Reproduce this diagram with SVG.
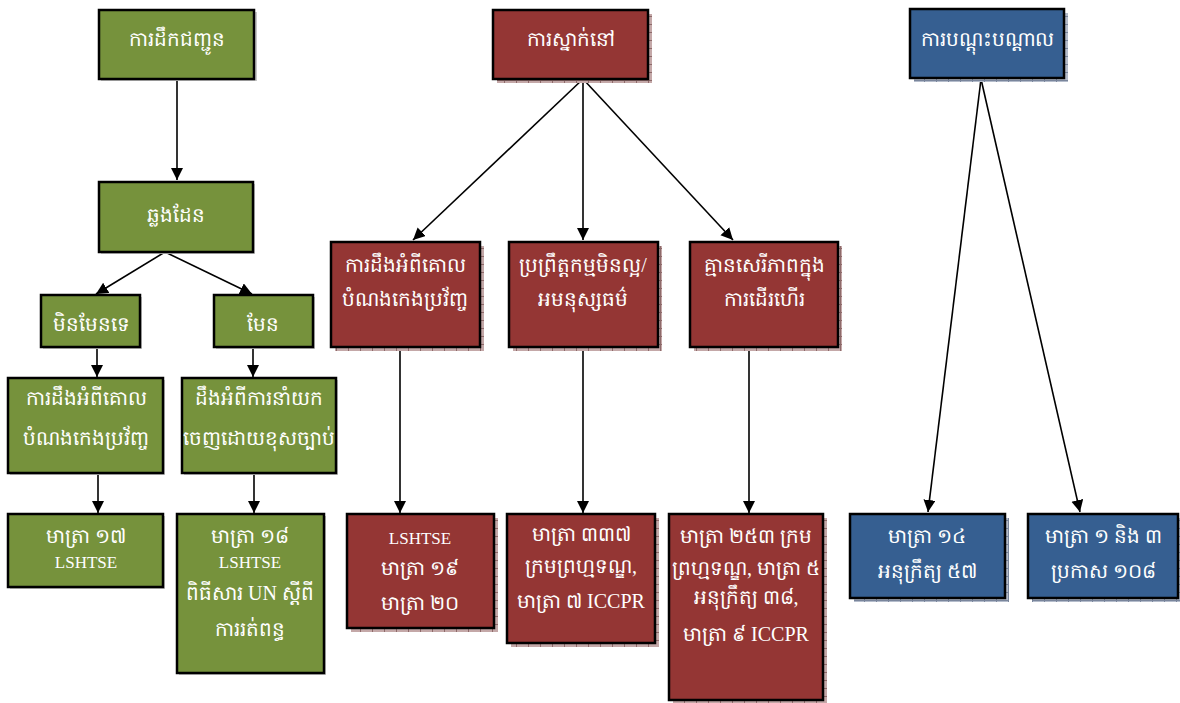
<svg xmlns="http://www.w3.org/2000/svg" width="1180" height="703" viewBox="0 0 1180 703">
<style>
.g{fill:#76923c;stroke:#000;stroke-width:2.5}
.r{fill:#943634;stroke:#000;stroke-width:2.5}
.b{fill:#365f91;stroke:#000;stroke-width:2.5}
.gs{fill:#c8c8c8}
.rs{fill:url(#rp)}
.bs{fill:url(#bp)}
text{font-family:"Liberation Serif","Noto Sans",serif;font-size:20px;fill:#fff;text-anchor:middle}
.lat{font-size:17px}
.c{stroke:#000;stroke-width:1.6;fill:none;marker-end:url(#ah)}
</style>
<defs>
<marker id="ah" markerUnits="userSpaceOnUse" markerWidth="14" markerHeight="14" refX="12" refY="6" orient="auto">
<path d="M0,0 L12,6 L0,12 Z" fill="#000"/>
</marker>
<pattern id="rp" patternUnits="userSpaceOnUse" width="12" height="8">
<rect width="12" height="8" fill="#c4a8a8"/>
<path d="M0,0.5H12M0.5,0V8" stroke="#8e6a6a" stroke-width="1"/>
</pattern>
<pattern id="bp" patternUnits="userSpaceOnUse" width="12" height="8">
<rect width="12" height="8" fill="#b4bccb"/>
<path d="M0,0.5H12M0.5,0V8" stroke="#7a869c" stroke-width="1"/>
</pattern>
</defs>

<g id="connectors">
<line class="c" x1="177" y1="79" x2="177" y2="180"/>
<line class="c" x1="165" y1="252" x2="96" y2="294"/>
<line class="c" x1="165" y1="252" x2="252" y2="294"/>
<line class="c" x1="97" y1="347" x2="97" y2="377"/>
<line class="c" x1="253" y1="347" x2="253" y2="377"/>
<line class="c" x1="98" y1="473" x2="98" y2="513"/>
<line class="c" x1="254" y1="473" x2="254" y2="513"/>
<line class="c" x1="583" y1="79" x2="413" y2="240"/>
<line class="c" x1="583" y1="79" x2="583" y2="240"/>
<line class="c" x1="583" y1="79" x2="733" y2="240"/>
<line class="c" x1="400" y1="347" x2="400" y2="513"/>
<line class="c" x1="583" y1="347" x2="583" y2="513"/>
<line class="c" x1="749" y1="347" x2="749" y2="513"/>
<line class="c" x1="981" y1="79" x2="928" y2="512"/>
<line class="c" x1="981" y1="79" x2="1080" y2="512"/>
</g>

<g id="n-transport"><rect class="gs" x="101" y="12" width="156" height="69"/><rect class="g" x="99" y="10" width="155" height="69"/><text x="177" y="46">ការដឹកជញ្ជូន</text></g>
<g id="n-border"><rect class="gs" x="101" y="184" width="154" height="70"/><rect class="g" x="99" y="182" width="154" height="70"/><text x="176" y="222">ឆ្លងដែន</text></g>
<g id="n-no"><rect class="gs" x="43" y="297" width="99" height="52"/><rect class="g" x="41" y="295" width="99" height="52"/><text x="91" y="331">មិនមែនទេ</text></g>
<g id="n-yes"><rect class="gs" x="216" y="297" width="99" height="52"/><rect class="g" x="214" y="295" width="99" height="52"/><text x="263" y="331">មែន</text></g>
<g id="n-know1"><rect class="gs" x="10" y="380" width="155" height="95"/><rect class="g" x="8" y="378" width="155" height="95"/><text x="86" y="405">ការដឹងអំពីគោល</text><text x="86" y="445">បំណងកេងប្រវ័ញ្ច</text></g>
<g id="n-know2"><rect class="gs" x="184" y="380" width="154" height="95"/><rect class="g" x="182" y="378" width="154" height="95"/><text x="259" y="405">ដឹងអំពីការនាំយក</text><text x="259" y="445">ចេញដោយខុសច្បាប់</text></g>
<g id="n-art17"><rect class="gs" x="10" y="516" width="155" height="73"/><rect class="g" x="8" y="514" width="155" height="73"/><text x="86" y="543">មាត្រា ១៧</text><text class="lat" x="86" y="568">LSHTSE</text></g>
<g id="n-art18"><rect class="gs" x="179" y="516" width="147" height="159"/><rect class="g" x="177" y="514" width="147" height="159"/><text x="250" y="543">មាត្រា ១៨</text><text class="lat" x="250" y="568">LSHTSE</text><text x="250" y="600">ពិធីសារ UN ស្តីពី</text><text x="250" y="636">ការរត់ពន្ធ</text></g>

<g id="n-stay"><rect class="rs" x="497" y="14" width="155" height="69"/><rect class="r" x="493" y="10" width="155" height="69"/><text x="571" y="46">ការស្នាក់នៅ</text></g>
<g id="n-know3"><rect class="rs" x="335" y="246" width="149" height="105"/><rect class="r" x="331" y="242" width="149" height="105"/><text x="405" y="272">ការដឹងអំពីគោល</text><text x="405" y="306">បំណងកេងប្រវ័ញ្ច</text></g>
<g id="n-abuse"><rect class="rs" x="513" y="246" width="149" height="105"/><rect class="r" x="509" y="242" width="149" height="105"/><text x="583" y="272">ប្រព្រឹត្តកម្មមិនល្អ/</text><text x="583" y="306">អមនុស្សធម៌</text></g>
<g id="n-freedom"><rect class="rs" x="694" y="246" width="148" height="105"/><rect class="r" x="690" y="242" width="148" height="105"/><text x="764" y="272">គ្មានសេរីភាពក្នុង</text><text x="764" y="306">ការដើរហើរ</text></g>
<g id="n-art19"><rect class="rs" x="351" y="518" width="147" height="114"/><rect class="r" x="347" y="514" width="147" height="114"/><text class="lat" x="420" y="544">LSHTSE</text><text x="420" y="575">មាត្រា ១៩</text><text x="420" y="610">មាត្រា ២០</text></g>
<g id="n-art337"><rect class="rs" x="511" y="518" width="148" height="129"/><rect class="r" x="507" y="514" width="148" height="129"/><text x="581" y="541">មាត្រា ៣៣៧</text><text x="581" y="573">ក្រមព្រហ្មទណ្ឌ,</text><text x="581" y="608">មាត្រា ៧ ICCPR</text></g>
<g id="n-art253"><rect class="rs" x="673" y="518" width="154" height="186"/><rect class="r" x="669" y="514" width="154" height="186"/><text x="746" y="543">មាត្រា ២៥៣ ក្រម</text><text x="746" y="575">ព្រហ្មទណ្ឌ, មាត្រា ៥</text><text x="746" y="604">អនុក្រឹត្យ ៣៨,</text><text x="746" y="641">មាត្រា ៩ ICCPR</text></g>

<g id="n-training"><rect class="bs" x="914" y="13" width="154" height="69"/><rect class="b" x="910" y="9" width="154" height="69"/><text x="987" y="46">ការបណ្តុះបណ្តាល</text></g>
<g id="n-art14"><rect class="bs" x="854" y="518" width="155" height="84"/><rect class="b" x="850" y="514" width="155" height="84"/><text x="927" y="543">មាត្រា ១៤</text><text x="927" y="578">អនុក្រឹត្យ ៥៧</text></g>
<g id="n-art1"><rect class="bs" x="1032" y="518" width="152" height="84"/><rect class="b" x="1028" y="514" width="150" height="84"/><text x="1103" y="543">មាត្រា ១ និង ៣</text><text x="1103" y="578">ប្រកាស ១០៨</text></g>
</svg>
